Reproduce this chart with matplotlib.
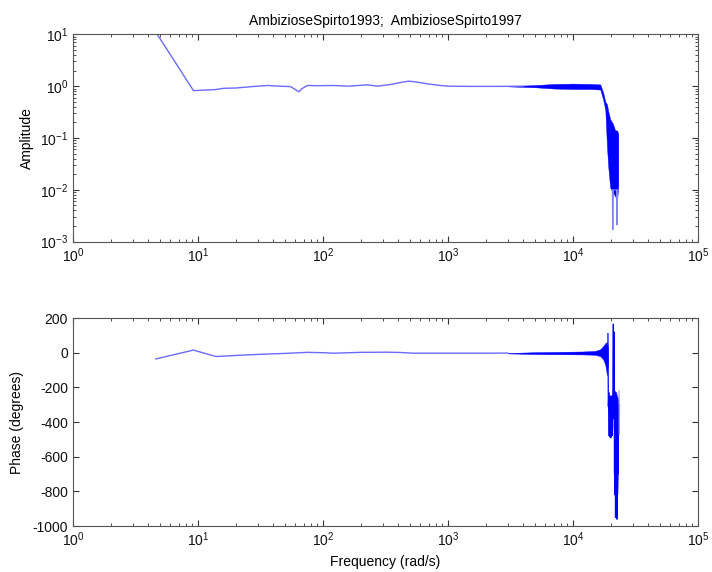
import matplotlib
matplotlib.use("Agg")
import matplotlib.pyplot as plt
from matplotlib.ticker import LogLocator, FixedLocator, NullFormatter

plt.rcParams['font.family'] = ['Liberation Sans', 'DejaVu Sans']
plt.rcParams['axes.unicode_minus'] = False

# ---------------- data ----------------
title_text = "AmbizioseSpirto1993;  AmbizioseSpirto1997"

# amplitude, smooth part
amp_freq = [4.6, 9.2, 13.9, 16, 20, 27, 36, 45, 55, 60, 64, 68, 75, 90, 120, 160,
            226, 272, 350, 420, 488, 560, 700, 870, 1000, 1500, 2600, 4000]
amp_val = [11.0, 0.82, 0.86, 0.91, 0.92, 0.98, 1.03, 1.0, 0.98, 0.86, 0.78, 0.9,
           1.03, 1.02, 1.03, 1.0, 1.06, 1.0, 1.08, 1.18, 1.25, 1.2, 1.1, 1.03,
           1.0, 0.99, 0.99, 1.0]

# amplitude, dense noisy band (envelope)
amp_band_freq = [3000, 5000, 7000, 10000, 14000, 16500, 17400, 18100, 18650,
                 19100, 19800, 20800, 21700, 22500, 23000]
amp_band_hi = [1.0, 1.05, 1.1, 1.12, 1.1, 1.08, 0.75, 0.5, 0.45, 0.33, 0.23,
               0.19, 0.14, 0.14, 0.12]
amp_band_lo = [0.99, 0.95, 0.9, 0.88, 0.88, 0.86, 0.55, 0.35, 0.07, 0.028,
               0.011, 0.009, 0.0075, 0.0065, 0.012]

# amplitude, faint deep dips
amp_dip_freq = [20600, 20700, 20800, 20900, 21000, 22300, 22400, 22500, 22600]
amp_dip_val = [0.01, 0.002, 0.0017, 0.002, 0.01, 0.01, 0.0022, 0.0021, 0.01]

# phase, smooth part
ph_freq = [4.6, 9.2, 13.9, 20, 30, 50, 75, 100, 121, 200, 325, 420, 530, 700,
           1040, 2000, 3000]
ph_val = [-36, 15, -22, -16, -10, -4, 2, 0, -3, 2, 3, 1, -3, -3, -3, -3, -2]

# phase, noisy trumpet before resonance (envelope)
ph_band_freq = [3000, 5000, 8000, 12000, 15000, 16500, 17400, 18100, 18650, 19000]
ph_band_hi = [-2, 3, 5, 7, 10, 20, 38, 55, 62, 30]
ph_band_lo = [-4, -8, -9, -10, -12, -20, -38, -70, -130, -60]

# phase, dense lower cluster near 22000 rad/s (envelope)
ph_clu_freq = [21400, 21600, 21850, 22100, 22400, 22700, 22900]
ph_clu_hi = [-240, -220, -225, -230, -250, -270, -300]
ph_clu_lo = [-420, -650, -880, -960, -930, -750, -500]

# phase, resonance spikes
ph_spk_freq = [19000, 19150, 19300, 19450, 19550, 19650, 19750, 19850, 19950,
               20050, 20150, 20250, 20350, 20450, 20550, 20650, 20750, 20850,
               21000, 21100, 21250, 21350, 21450, 21550, 21650, 21750, 21850,
               21950, 22050, 22150, 22250, 22350, 22450, 22550, 22650, 22750,
               22850, 23000]
ph_spk_val = [110, -310, -230, -480, -255, -485, -260, -470, -250, -490, -270,
              -460, -250, -480, -260, -440, -300, -200, 165, -380, 120, -260,
              -700, -230, -820, -260, -950, -300, -930, -250, -880, -320,
              -960, -280, -820, -260, -700, -300]
ph_light_freq = [23300, 23450, 23550]
ph_light_val = [-220, -470, -300]

# ---------------- figure ----------------
fig = plt.figure(figsize=(7.12, 5.72), dpi=100)
ax1 = fig.add_axes([0.1025, 0.5775, 0.878, 0.3625])
ax2 = fig.add_axes([0.1025, 0.0804, 0.878, 0.3636])

line_c = (0.42, 0.42, 1.0)
dense_c = (0.0, 0.0, 1.0)
spine_c = '#555555'

ax1.plot(amp_freq, amp_val, color=line_c, lw=1.0)
ax1.fill_between(amp_band_freq, amp_band_lo, amp_band_hi, color=dense_c, lw=0.3,
                 edgecolor=dense_c)
ax1.plot(amp_dip_freq, amp_dip_val, color=(0.5, 0.5, 1.0), lw=0.8)

ax2.plot(ph_freq, ph_val, color=line_c, lw=1.0)
ax2.fill_between(ph_band_freq, ph_band_lo, ph_band_hi, color=dense_c, lw=0.3,
                 edgecolor=dense_c)
ax2.fill_between(ph_clu_freq, ph_clu_lo, ph_clu_hi, color=dense_c, lw=0.3,
                 edgecolor=dense_c)
ax2.plot(ph_spk_freq, ph_spk_val, color=dense_c, lw=0.9)
ax2.plot(ph_light_freq, ph_light_val, color=(0.6, 0.6, 1.0), lw=0.8)

for ax in (ax1, ax2):
    ax.set_xscale('log')
    ax.set_xlim(1, 1e5)
    ax.xaxis.set_major_locator(LogLocator(base=10, numticks=10))
    ax.xaxis.set_minor_locator(LogLocator(base=10, subs=range(2, 10), numticks=20))
    ax.xaxis.set_minor_formatter(NullFormatter())
    ax.tick_params(which='both', direction='in', top=True, right=True,
                   colors='#333333', labelcolor='#111111', labelsize=10)
    ax.tick_params(which='major', length=4)
    ax.tick_params(which='minor', length=2)
    for s in ax.spines.values():
        s.set_color(spine_c)
        s.set_linewidth(0.8)

ax1.set_yscale('log')
ax1.set_ylim(1e-3, 1e1)
ax1.yaxis.set_major_locator(LogLocator(base=10, numticks=10))
ax1.yaxis.set_minor_locator(LogLocator(base=10, subs=range(2, 10), numticks=20))
ax1.yaxis.set_minor_formatter(NullFormatter())
ax1.set_ylabel('Amplitude', fontsize=10)
ax1.set_title(title_text, fontsize=10, pad=7)

ax2.set_ylim(-1000, 200)
ax2.yaxis.set_major_locator(FixedLocator([-1000, -800, -600, -400, -200, 0, 200]))
ax2.set_ylabel('Phase (degrees)', fontsize=10, labelpad=6)
ax2.set_xlabel('Frequency (rad/s)', fontsize=10)

fig.savefig('out.png', dpi=100)
